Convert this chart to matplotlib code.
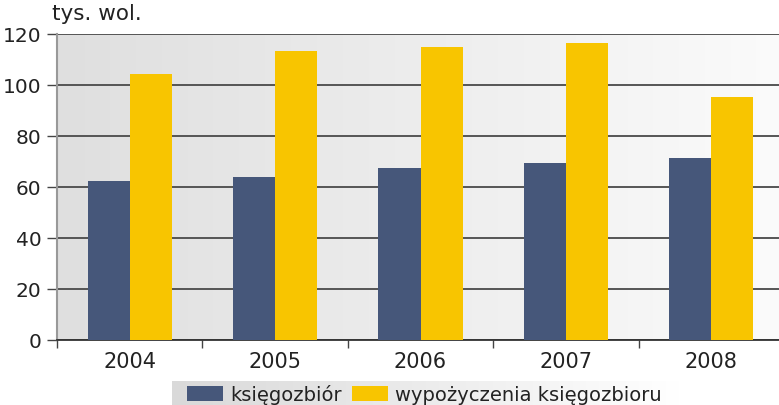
import matplotlib
matplotlib.use("Agg")
import matplotlib.pyplot as plt
import numpy as np
from matplotlib.colors import LinearSegmentedColormap

years = ["2004", "2005", "2006", "2007", "2008"]
ksiegozbior = [62.2, 63.8, 67.3, 69.3, 71.2]
wypozyczenia = [104.1, 113.1, 114.7, 116.2, 95.1]
yticks = [0, 20, 40, 60, 80, 100, 120]

dark = "#46577a"
yellow = "#f8c500"

plt.rcParams['font.family'] = ['DejaVu Sans']
fig = plt.figure(figsize=(7.79, 4.06), dpi=100)

# legend background (gradient strip)
lax = fig.add_axes([172/779, 0, 508/779, 24/406])
lgrad = np.linspace(0, 1, 256).reshape(1, -1)
lcmap = LinearSegmentedColormap.from_list("lg", ["#d9d9d9", "#ececec", "#ffffff"])
lax.imshow(lgrad, cmap=lcmap, aspect='auto', extent=[0, 1, 0, 1])
lax.set_axis_off()

ax = fig.add_axes([57/779, 65/406, 727/779, 306.5/406])

x = np.arange(len(years))
w = 0.29
grad = np.linspace(0, 1, 256).reshape(1, -1)
cmap = LinearSegmentedColormap.from_list("bg", ["#dfdfdf", "#fbfbfb"])
ax.imshow(grad, cmap=cmap, aspect='auto', extent=[-0.5, 4.5, 0, 120], zorder=0)

ax.bar(x - w/2, ksiegozbior, width=w, color=dark, label="księgozbiór", zorder=3)
ax.bar(x + w/2, wypozyczenia, width=w, color=yellow, label="wypożyczenia księgozbioru", zorder=3)

ax.set_xlim(-0.5, 4.5)
ax.set_ylim(0, 120)
ax.set_yticks(yticks)
ax.set_yticklabels([str(v) for v in yticks], fontsize=14.5, color="#222222")
ax.yaxis.grid(True, color="#555555", linewidth=1.4, zorder=1)
ax.set_axisbelow(True)

ax.set_xticks(x)
ax.set_xticklabels(years, fontsize=15, color="#222222")
ax.set_xticks(np.arange(-0.5, 5, 1), minor=True)
ax.tick_params(axis='x', which='major', length=0, pad=8)
ax.tick_params(axis='x', which='minor', length=6, color="#444444", width=1)
ax.tick_params(axis='y', length=7, color="#444444", width=1, pad=4)

for s in ["top", "right"]:
    ax.spines[s].set_visible(False)
ax.spines["left"].set_color("#999999")
ax.spines["left"].set_linewidth(1.5)
ax.spines["bottom"].set_color("#333333")
ax.spines["bottom"].set_linewidth(1.3)

fig.text(52/779, 1 - 14/406, "tys. wol.", fontsize=15.5, color="#222222", va="center", ha="left")

leg = fig.legend(loc="center left", bbox_to_anchor=(187/779, 10.5/406), ncol=2, frameon=False,
                 fontsize=14, handlelength=1.85, handleheight=0.77, columnspacing=0.55,
                 handletextpad=0.36, borderpad=0, borderaxespad=0)
for t in leg.get_texts():
    t.set_color("#222222")

fig.savefig("out.png", dpi=100)
